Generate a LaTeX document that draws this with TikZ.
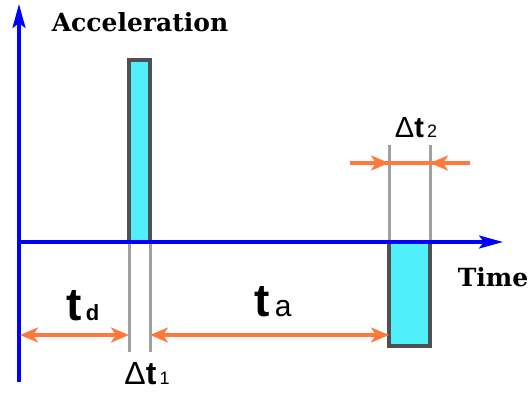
\documentclass[tikz,border=0pt]{standalone}
\usepackage{fontspec}
\setmainfont{DejaVu Serif}
\newfontfamily\lblfont{Liberation Sans}
\usetikzlibrary{arrows.meta}
\definecolor{axisblue}{RGB}{0,0,255}
\definecolor{dimorange}{RGB}{255,120,60}
\definecolor{pulsefill}{RGB}{80,240,250}
\definecolor{pulseedge}{RGB}{80,80,80}
\definecolor{guidegray}{RGB}{160,160,160}
\tikzset{
  axis/.style={axisblue, line width=3.2pt, -{Stealth[length=24pt,width=13pt,inset=5pt]}},
  pulse/.style={draw=pulseedge, fill=pulsefill, line width=4.5pt, inner sep=0pt, outer sep=0pt},
  guide/.style={guidegray, line width=3pt},
  dimarrow/.style={dimorange, line width=3.8pt, {Stealth[length=18pt,width=15pt,inset=5pt]}-{Stealth[length=18pt,width=15pt,inset=5pt]}},
  dimline/.style={dimorange, line width=3.8pt},
  dimhead/.style={dimorange, line width=3.8pt, -{Stealth[length=18pt,width=15pt,inset=5pt]}},
  title/.style={font=\bfseries\fontsize{25}{28}\selectfont, inner sep=0pt},
}
\begin{document}
\begin{tikzpicture}[x=1pt,y=-1pt]
\useasboundingbox (0,0) rectangle (529,396);
% pulses
\node[pulse, minimum width=21pt, minimum height=182pt] (p1) at (139.5,151) {};
\node[pulse, minimum width=41pt, minimum height=104pt] (p2) at (409.5,294) {};
% guide lines
\draw[guide] (p1.south west) -- ++(0,110) coordinate (g1l);
\draw[guide] (p1.south east) -- ++(0,110) coordinate (g1r);
\draw[guide] (p2.north west) -- ++(0,-97) coordinate (g2l);
\draw[guide] (p2.north east) -- ++(0,-97) coordinate (g2r);
% axes
\coordinate (yb) at (19,382);
\coordinate (yt) at (19,4);
\coordinate (xo) at (19,242);
\coordinate (xe) at (503,242);
\draw[axis] (yb) -- (yt);
\draw[axis] (xo) -- (xe);
% dimension arrows bottom
\coordinate (dl) at (20,335);
\draw[dimarrow] (dl) -- (dl -| p1.west);
\draw[dimarrow] (dl -| p1.east) -- (dl -| p2.west);
% dimension arrows top
\coordinate (d2a) at (350,163);
\coordinate (d2b) at (470,163);
\draw[dimline] (d2a) -- (d2b);
\draw[dimhead] (d2a) -- (d2a -| p2.west);
\draw[dimhead] (d2b) -- (d2b -| p2.east);
% labels
\node[title] (acc) at (140,22) {Acceleration};
\node[title] (time) at (493,277) {Time};
\node[inner sep=0pt] (td) at (83,306) {\lblfont\bfseries\fontsize{46}{48}\selectfont t\fontsize{22}{24}\selectfont\,d};
\node[inner sep=0pt] (ta) at (273,302) {\lblfont\bfseries\fontsize{46}{48}\selectfont t\mdseries\fontsize{30}{32}\selectfont\,a};
\node[inner sep=0pt] (dt1) at (147,374) {\lblfont\fontsize{32}{34}\selectfont Δ\bfseries t\mdseries\fontsize{18}{20}\selectfont\,1};
\node[inner sep=0pt] (dt2) at (416,128) {\lblfont\fontsize{29}{31}\selectfont Δ\bfseries t\mdseries\fontsize{18}{20}\selectfont\,2};
\end{tikzpicture}
\end{document}
